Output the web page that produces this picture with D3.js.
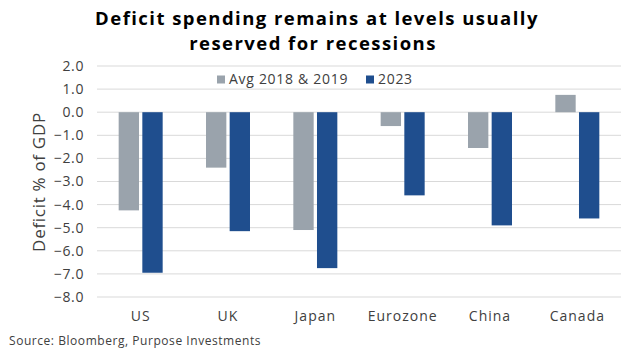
<!DOCTYPE html>
<html>
<head>
<meta charset="utf-8">
<script src="https://cdn.jsdelivr.net/npm/d3@7"></script>
<style>
  body { margin: 0; background: #fff; }
  text { font-family: "Open Sans", sans-serif; fill: #404040; }
  .title { font-weight: bold; fill: #000; }
</style>
</head>
<body>
<div class="container"></div>
<script>
const WIDTH = 637;
const HEIGHT = 351;

var countries = ["US", "UK", "Japan", "Eurozone", "China", "Canada"];
var seriesNames = ["Avg 2018 & 2019", "2023"];
var avg1819 = [-4.25, -2.4, -5.1, -0.6, -1.55, 0.75];
var y2023 = [-6.95, -5.15, -6.75, -3.6, -4.9, -4.6];
var yTicks = [2, 1, 0, -1, -2, -3, -4, -5, -6, -7, -8];
var titleLines = ["Deficit spending remains at levels usually", "reserved for recessions"];
var colors = ["#9aa3ac", "#1f4e8e"];

var translate = function(x, y) {
    return `translate(${x},${y})`;
};

var svg = d3.select('.container').append('svg')
    .attr('width', WIDTH)
    .attr('height', HEIGHT);

// title, two lines
svg.selectAll('.title').data(titleLines).enter()
    .append('text')
    .classed('title', true)
    .attr('text-anchor', 'middle')
    .attr('font-size', 18.5)
    .attr('letter-spacing', 1.45)
    .attr('x', (d, i) => i ? 313 : 317)
    .attr('y', (d, i) => i ? 50 : 25)
    .text(d => d);

let xScale = d3.scaleBand()
    .domain(countries)
    .range([97, 621]);

let yScale = d3.scaleLinear()
    .domain([-8, 2])
    .range([297, 66]);

let inner = d3.scaleBand()
    .domain([0, 1])
    .range([xScale.bandwidth() / 2 - 22, xScale.bandwidth() / 2 + 22])
    .paddingInner(0.14);

// gridlines
svg.append('g').selectAll('line').data(yTicks).enter()
    .append('line')
    .attr('x1', 97).attr('x2', 621)
    .attr('y1', d => yScale(d)).attr('y2', d => yScale(d))
    .attr('stroke', '#d9d9d9')
    .attr('stroke-width', 1);

// y axis
let yAxis = d3.axisLeft(yScale).tickValues(yTicks).tickFormat(d3.format('.1f')).tickSize(0).tickPadding(13);
var yg = svg.append('g')
    .attr('transform', translate(97, 0))
    .call(yAxis);
yg.select('.domain').remove();
yg.selectAll('text').attr('font-size', 14).attr('fill', '#404040')
    .attr('letter-spacing', 0.6)
    .style('font-family', '"Open Sans", sans-serif');

// x labels
let xAxis = d3.axisBottom(xScale).tickSize(0).tickPadding(14);
var xg = svg.append('g')
    .attr('transform', translate(0, 297))
    .call(xAxis);
xg.select('.domain').remove();
xg.selectAll('text').attr('font-size', 14).attr('fill', '#404040')
    .attr('letter-spacing', 1)
    .style('font-family', '"Open Sans", sans-serif');

// bars
var series = [avg1819, y2023];
series.forEach(function(values, si) {
    svg.append('g').selectAll('rect').data(values).enter()
        .append('rect')
        .attr('x', (v, i) => xScale(countries[i]) + inner(si))
        .attr('width', inner.bandwidth())
        .attr('y', v => yScale(Math.max(0, v)))
        .attr('height', v => Math.abs(yScale(v) - yScale(0)))
        .attr('fill', colors[si]);
});

// y title
svg.append('text')
    .attr('transform', translate(45, 182) + ' rotate(-90)')
    .attr('text-anchor', 'middle')
    .attr('font-size', 17)
    .attr('letter-spacing', 0.7)
    .text('Deficit % of GDP');

// legend
var legendX = [217, 366];
seriesNames.forEach(function(name, i) {
    svg.append('rect')
        .attr('x', legendX[i]).attr('y', 75.5)
        .attr('width', 8).attr('height', 8)
        .attr('fill', colors[i]);
    svg.append('text')
        .attr('x', legendX[i] + 12).attr('y', 84)
        .attr('font-size', 14)
        .attr('letter-spacing', 0.7)
        .text(name);
});

// source
svg.append('text')
    .attr('x', 9).attr('y', 345)
    .attr('font-size', 12)
    .attr('letter-spacing', 0.55)
    .text('Source: Bloomberg, Purpose Investments');
</script>
</body>
</html>
